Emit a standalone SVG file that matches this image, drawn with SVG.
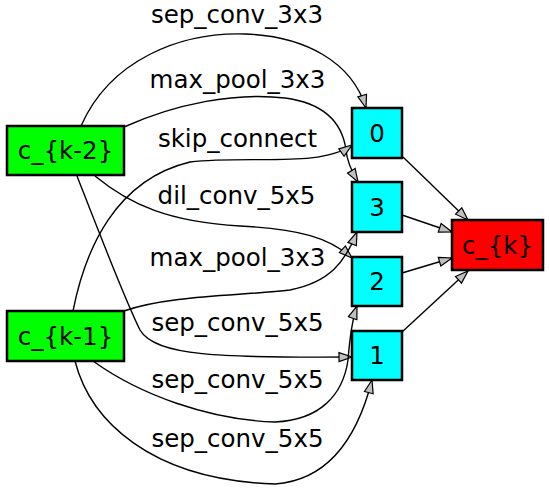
<svg xmlns="http://www.w3.org/2000/svg" width="550" height="495" viewBox="0 0 550 495">
<style>
  .node rect { stroke: #000; stroke-width: 2.5; }
  .in rect { fill: #00ff00; }
  .mid rect { fill: #00ffff; }
  .out rect { fill: #ff0000; }
  text { font-family: "DejaVu Sans", Verdana, sans-serif; font-size: 24.5px; fill: #000; text-anchor: middle; }
  .edges path { fill: none; stroke: #000; stroke-width: 1.4; marker-end: url(#arr); }
</style>
<defs>
  <marker id="arr" markerUnits="userSpaceOnUse" markerWidth="16" markerHeight="12" viewBox="0 0 16 12" refX="14" refY="6" orient="auto">
    <path d="M1,1.5 L14,6 L1,10.5 Z" fill="#c0c0c0" stroke="#000" stroke-width="1.2"/>
  </marker>
</defs>
<g id="connectors" class="edges">
  <path d="M81,126 C110,60 180,32 245,34 C305,36 352,62 366,108"/>
  <path d="M124,127 C175,104 235,92 285,98 C330,104 343,128 346,150 C347,162 352,172 358,182"/>
  <path d="M73,311 C85,250 115,180 190,162 C250,155 320,168 352,145"/>
  <path d="M95,176 C130,205 170,222 240,226 C300,229 330,238 352,258"/>
  <path d="M124,311 C170,295 240,296 290,290 C330,282 345,262 357,232"/>
  <path d="M77,176 C100,235 125,300 140,330 C155,356 220,358 352,357"/>
  <path d="M93,361 C140,395 210,420 275,422 C320,420 343,395 348,360 C350,335 352,320 357,306"/>
  <path d="M75,361 C90,420 150,480 275,484 C330,480 358,435 372,380"/>
  <path d="M403,157 L468,220"/>
  <path d="M402,215 L452,232"/>
  <path d="M402,273 L452,258"/>
  <path d="M402,332 L468,271"/>
</g>
<g id="edge-labels">
  <text x="237" y="23">sep_conv_3x3</text>
  <text x="237.5" y="88">max_pool_3x3</text>
  <text x="237.5" y="147">skip_connect</text>
  <text x="236.5" y="204">dil_conv_5x5</text>
  <text x="237.5" y="266">max_pool_3x3</text>
  <text x="237.5" y="331">sep_conv_5x5</text>
  <text x="237.5" y="388">sep_conv_5x5</text>
  <text x="237.5" y="447">sep_conv_5x5</text>
</g>
<g id="node-ck2" class="node in"><rect x="7" y="126" width="117" height="49"/><text x="65.5" y="159">c_{k-2}</text></g>
<g id="node-ck1" class="node in"><rect x="7" y="311" width="117" height="50"/><text x="65.5" y="345">c_{k-1}</text></g>
<g id="node-0" class="node mid"><rect x="352" y="108" width="50" height="50"/><text x="377" y="142">0</text></g>
<g id="node-3" class="node mid"><rect x="352" y="182" width="50" height="50"/><text x="377" y="216">3</text></g>
<g id="node-2" class="node mid"><rect x="352" y="257" width="50" height="49"/><text x="377" y="290">2</text></g>
<g id="node-1" class="node mid"><rect x="352" y="331" width="50" height="49"/><text x="377" y="364">1</text></g>
<g id="node-ck" class="node out"><rect x="452" y="220" width="91" height="50"/><text x="497.5" y="254">c_{k}</text></g>
</svg>
